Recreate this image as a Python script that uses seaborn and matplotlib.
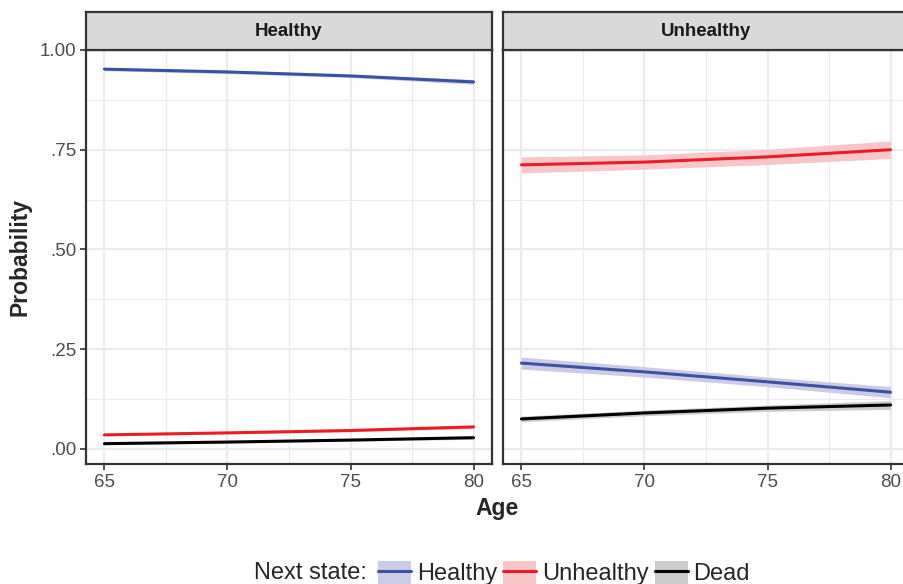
import numpy as np
import pandas as pd
import matplotlib
matplotlib.use("Agg")
import matplotlib.pyplot as plt
import seaborn as sns
from matplotlib.patches import Patch
from matplotlib.lines import Line2D

# data
ages = [65, 70, 75, 80]
states = ["Healthy", "Unhealthy", "Dead"]
panels = ["Healthy", "Unhealthy"]

# from Healthy
hh_mean = [0.952, 0.945, 0.935, 0.920]
hh_lo = [0.948, 0.941, 0.931, 0.914]
hh_hi = [0.956, 0.949, 0.939, 0.926]
hu_mean = [0.035, 0.040, 0.046, 0.055]
hu_lo = [0.033, 0.038, 0.043, 0.051]
hu_hi = [0.037, 0.042, 0.049, 0.059]
hd_mean = [0.013, 0.017, 0.022, 0.028]
hd_lo = [0.011, 0.015, 0.019, 0.024]
hd_hi = [0.015, 0.019, 0.025, 0.032]

# from Unhealthy
uh_mean = [0.215, 0.193, 0.168, 0.142]
uh_lo = [0.200, 0.180, 0.156, 0.128]
uh_hi = [0.230, 0.206, 0.180, 0.156]
uu_mean = [0.712, 0.719, 0.732, 0.750]
uu_lo = [0.692, 0.701, 0.713, 0.728]
uu_hi = [0.732, 0.737, 0.751, 0.772]
ud_mean = [0.075, 0.090, 0.102, 0.110]
ud_lo = [0.068, 0.083, 0.094, 0.099]
ud_hi = [0.082, 0.097, 0.110, 0.121]

line_cols = {"Healthy": "#3953A4", "Unhealthy": "#ED1C24", "Dead": "#000000"}
fill_cols = {"Healthy": "#CBCBE5", "Unhealthy": "#F6C6C9", "Dead": "#CCCCCC"}

rows = []
series = {
    "Healthy": {"Healthy": (hh_mean, hh_lo, hh_hi), "Unhealthy": (hu_mean, hu_lo, hu_hi), "Dead": (hd_mean, hd_lo, hd_hi)},
    "Unhealthy": {"Healthy": (uh_mean, uh_lo, uh_hi), "Unhealthy": (uu_mean, uu_lo, uu_hi), "Dead": (ud_mean, ud_lo, ud_hi)},
}
for p in panels:
    for s in states:
        m, lo, hi = series[p][s]
        for a, v, l, h in zip(ages, m, lo, hi):
            rows.append({"panel": p, "state": s, "age": a, "prob": v, "lo": l, "hi": h})
df = pd.DataFrame(rows)

sns.set_theme(style="white")
plt.rcParams["font.family"] = ["Liberation Sans", "DejaVu Sans"]

W, H = 904, 584
fig = plt.figure(figsize=(W / 100, H / 100), dpi=100)

grid_col = "#EBEBEB"
border_col = "#333333"
lefts = [86, 503]
for i, p in enumerate(panels):
    ax = fig.add_axes([lefts[i] / W, 1 - 464 / H, 406 / W, 414 / H])
    sub = df[df.panel == p]
    for s in states:
        d = sub[sub.state == s]
        ax.fill_between(d.age, d.lo, d.hi, color=fill_cols[s], lw=0, zorder=2)
    sns.lineplot(data=sub, x="age", y="prob", hue="state", palette=line_cols,
                 hue_order=states, ax=ax, legend=False, linewidth=2.2, zorder=3)
    ax.set_xlim(64.25, 80.75)
    ax.set_ylim(-0.038, 1.0)
    ax.set_xticks([65, 70, 75, 80])
    ax.set_xticks([67.5, 72.5, 77.5], minor=True)
    ax.set_yticks([0, 0.25, 0.5, 0.75, 1.0])
    ax.set_yticks([0.125, 0.375, 0.625, 0.875], minor=True)
    ax.grid(True, which="major", color=grid_col, lw=1.6, zorder=0)
    ax.grid(True, which="minor", color=grid_col, lw=0.9, zorder=0)
    ax.set_axisbelow(True)
    for sp in ax.spines.values():
        sp.set_color(border_col)
        sp.set_linewidth(1.6)
    ax.tick_params(axis="x", which="major", bottom=True, length=4, width=1.2,
                   color=border_col, labelsize=13.5, labelcolor="#4D4D4D", pad=3)
    ax.tick_params(axis="x", which="minor", bottom=False)
    ax.tick_params(axis="y", which="minor", left=False)
    if i == 0:
        ax.tick_params(axis="y", which="major", left=True, length=4, width=1.2,
                       color=border_col, labelsize=13.5, labelcolor="#4D4D4D", pad=3)
        ax.set_yticklabels([".00", ".25", ".50", ".75", "1.00"])
    else:
        ax.tick_params(axis="y", left=False, labelleft=False)
    ax.set_xlabel("")
    ax.set_ylabel("")

    # facet strip
    sax = fig.add_axes([lefts[i] / W, 1 - 50 / H, 406 / W, 38 / H])
    sax.set_facecolor("#D9D9D9")
    sax.set_xticks([])
    sax.set_yticks([])
    for sp in sax.spines.values():
        sp.set_color(border_col)
        sp.set_linewidth(1.6)
    sax.text(0.5, 0.5, p, ha="center", va="center", fontsize=13.5,
             fontweight="bold", color="#1A1A1A", transform=sax.transAxes)

fig.text(20 / W, 1 - 257 / H, "Probability", rotation=90, ha="center", va="center",
         fontsize=16.5, fontweight="bold")
fig.text(497 / W, 1 - 508 / H, "Age", ha="center", va="center",
         fontsize=16.5, fontweight="bold")

ly = 1 - 573 / H
fig.text(254 / W, ly, "Next state:", ha="left", va="center", fontsize=17)
handles = [(Patch(facecolor=fill_cols[s], edgecolor="none"),
            Line2D([], [], color=line_cols[s], lw=2.2)) for s in states]
fig.legend(handles, states, loc="center left", bbox_to_anchor=(378 / W, ly),
           ncol=3, frameon=False, fontsize=17, handlelength=1.4, handleheight=1.15,
           handletextpad=0.25, columnspacing=0.25, borderpad=0, borderaxespad=0)

fig.savefig("out.png", dpi=100)
